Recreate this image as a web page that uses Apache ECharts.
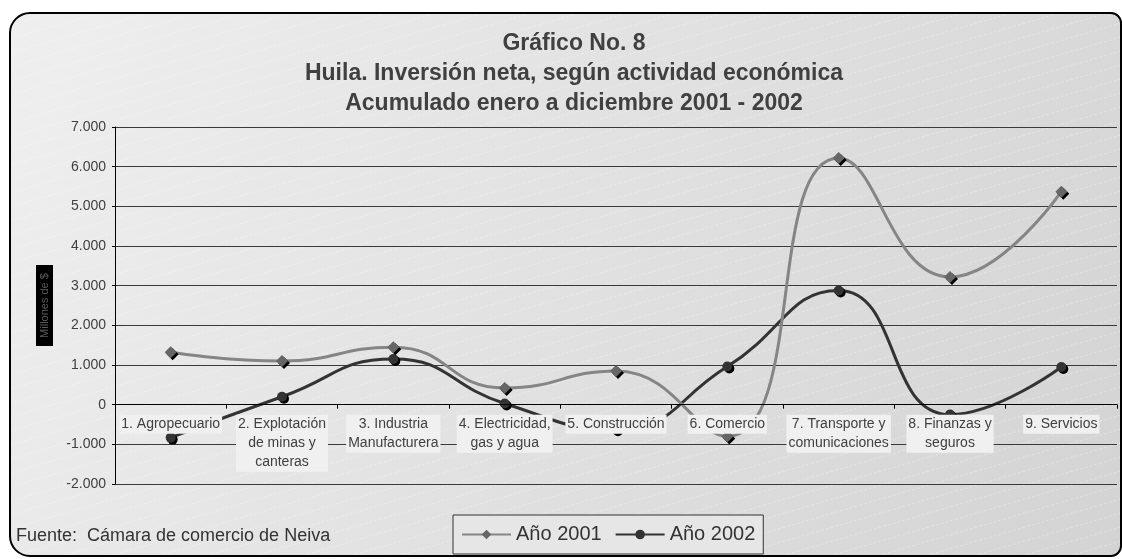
<!DOCTYPE html>
<html>
<head>
<meta charset="utf-8">
<script src="https://cdn.jsdelivr.net/npm/echarts@6/dist/echarts.min.js"></script>
<style>
html,body{margin:0;padding:0;background:#fff;}
#c{width:1122px;height:559px;}
</style>
</head>
<body>
<div id="c"></div>
<script>
// ---- data ----
var categories = [
  '1. Agropecuario',
  '2. Explotación\nde minas y\ncanteras',
  '3. Industria\nManufacturera',
  '4. Electricidad,\ngas y agua',
  '5. Construcción',
  '6. Comercio',
  '7. Transporte y\ncomunicaciones',
  '8. Finanzas y\nseguros',
  '9. Servicios'
];
var anio2001 = [1320, 1100, 1450, 420, 850, -800, 6220, 3220, 5370];
var anio2002 = [-830, 200, 1150, 30, -620, 960, 2880, -250, 950];
var yTicks = [-2000, -1000, 0, 1000, 2000, 3000, 4000, 5000, 6000, 7000];
var titleLines = ['Gráfico No. 8', 'Huila. Inversión neta, según actividad económica', 'Acumulado enero a diciembre 2001 - 2002'];
var sourceText = 'Fuente:  Cámara de comercio de Neiva';
var yName = 'Millones de $';
var seriesNames = ['Año 2001', 'Año 2002'];

var FONT = '"Liberation Sans", Arial, sans-serif';
var GRID_TOP = 127, GRID_BOTTOM = 75, H = 559;
var yMin = yTicks[0], yMax = yTicks[yTicks.length - 1];
// move the category axis up to the zero line
var plotH = H - GRID_TOP - GRID_BOTTOM;
var zeroOffset = -plotH * (0 - yMin) / (yMax - yMin);

// faint diagonal stripe pattern
var pc = document.createElement('canvas');
pc.width = 48; pc.height = 14;
var px = pc.getContext('2d');
px.strokeStyle = 'rgba(255,255,255,0.5)';
px.lineWidth = 1;
px.setLineDash([3, 2]);
[-14, 0, 14].forEach(function (o) {
  px.beginPath();
  px.moveTo(0, 14 + o);
  px.lineTo(48, 0 + o);
  px.stroke();
});

function fmt(v) {
  if (v === 0) return '0';
  return (v < 0 ? '-' : '') + Math.abs(v / 1000) + '.000';
}

var chart = echarts.init(document.getElementById('c'), null, {renderer: 'canvas'});
chart.setOption({
  animation: false,
  backgroundColor: '#ffffff',
  graphic: [
    {
      type: 'rect', z: -10, silent: true,
      shape: {x: 10, y: 13, width: 1111, height: 543, r: [20, 10, 10, 20]},
      style: {
        fill: new echarts.graphic.LinearGradient(0, 0, 1, 1, [
          {offset: 0, color: '#efefef'},
          {offset: 1, color: '#d3d3d3'}
        ]),
        stroke: '#000', lineWidth: 2
      }
    },
    {
      type: 'rect', z: -9, silent: true,
      shape: {x: 11, y: 14, width: 1109, height: 541, r: [19, 9, 9, 19]},
      style: {fill: {image: pc, repeat: 'repeat'}, opacity: 0.6}
    },
    {
      type: 'text', z: 5, silent: true,
      x: 574, y: 44,
      style: {text: titleLines[0], fill: '#404040', font: 'bold 23px ' + FONT, align: 'center', verticalAlign: 'middle'}
    },
    {
      type: 'text', z: 5, silent: true,
      x: 574, y: 74,
      style: {text: titleLines[1], fill: '#404040', font: 'bold 23px ' + FONT, align: 'center', verticalAlign: 'middle'}
    },
    {
      type: 'text', z: 5, silent: true,
      x: 574, y: 104,
      style: {text: titleLines[2], fill: '#404040', font: 'bold 23px ' + FONT, align: 'center', verticalAlign: 'middle'}
    },
    {
      type: 'text', z: 5, silent: true,
      x: 16, y: 536,
      style: {text: sourceText, fill: '#333333', font: '18px ' + FONT, align: 'left', verticalAlign: 'middle'}
    }
  ],
  legend: {
    left: 453, top: 515,
    orient: 'horizontal',
    padding: [9, 8],
    itemGap: 13,
    itemWidth: 49,
    itemHeight: 12,
    backgroundColor: '#e6e6e6',
    borderColor: '#333333',
    borderWidth: 1,
    textStyle: {fontFamily: FONT, fontSize: 20, color: '#333333', lineHeight: 21},
    data: seriesNames
  },
  grid: {left: 115, right: 5, top: GRID_TOP, bottom: GRID_BOTTOM, containLabel: false},
  xAxis: {
    type: 'category',
    data: categories,
    boundaryGap: true,
    z: 10,
    offset: zeroOffset,
    axisLine: {onZero: false, lineStyle: {color: '#000', width: 1}},
    axisTick: {show: true, interval: 0, length: 4, alignWithLabel: false, lineStyle: {color: '#000'}},
    axisLabel: {
      interval: 0, margin: 10,
      fontFamily: FONT, fontSize: 14, color: '#404040',
      lineHeight: 19,
      backgroundColor: '#f0f0f0',
      padding: [0, 2]
    },
    splitLine: {show: false}
  },
  yAxis: {
    type: 'value',
    min: yMin, max: yMax, interval: 1000,
    name: yName,
    nameLocation: 'middle',
    nameRotate: 90,
    nameGap: 62,
    nameTextStyle: {
      fontFamily: FONT, fontSize: 11, color: '#5a5a5a',
      backgroundColor: '#000000', padding: [3, 8]
    },
    axisLine: {show: true, lineStyle: {color: '#000'}},
    axisTick: {show: true, length: 3, lineStyle: {color: '#000'}},
    axisLabel: {
      margin: 9, fontFamily: FONT, fontSize: 14, color: '#404040',
      formatter: fmt
    },
    splitLine: {show: true, lineStyle: {color: '#3a3a3a', width: 1}}
  },
  series: [
    {
      name: seriesNames[0], type: 'line', z: 4,
      data: anio2001, smooth: 0.5,
      symbol: 'diamond', symbolSize: 12,
      lineStyle: {color: '#858585', width: 3},
      itemStyle: {color: '#666666', shadowColor: '#000', shadowOffsetX: 2, shadowOffsetY: 2, shadowBlur: 0}
    },
    {
      name: seriesNames[1], type: 'line', z: 3,
      data: anio2002, smooth: 0.5,
      symbol: 'circle', symbolSize: 10,
      lineStyle: {color: '#333333', width: 3},
      itemStyle: {color: '#333333', shadowColor: '#000', shadowOffsetX: 2, shadowOffsetY: 2, shadowBlur: 0}
    }
  ]
});
</script>
</body>
</html>
